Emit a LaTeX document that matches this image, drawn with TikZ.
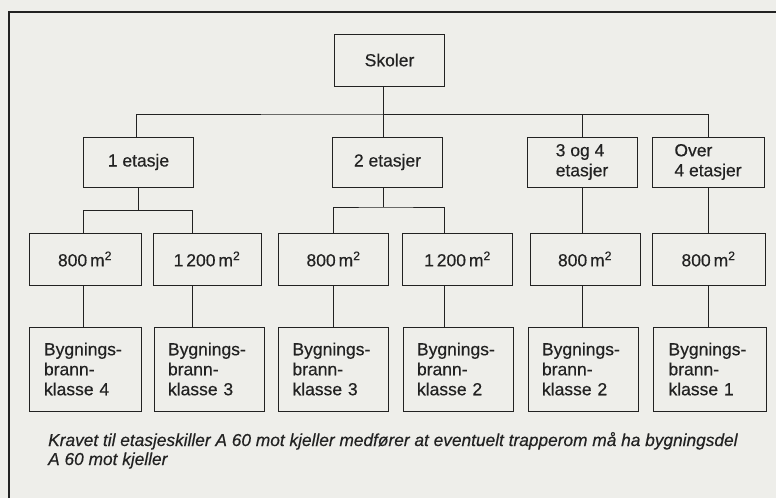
\documentclass[tikz,border=0pt]{standalone}
\usepackage{fontspec}
\setmainfont[FakeBold=0.4]{Liberation Sans}
\usetikzlibrary{positioning}
\definecolor{paper}{HTML}{EEEEEA}
\definecolor{ink}{HTML}{222222}

\begin{document}
\begin{tikzpicture}[
    x=1pt, y=-1pt,
    font=\fontsize{17.5}{20}\selectfont,
    box/.style={rectangle, draw=ink, line width=1pt, text=ink, minimum width=110pt, align=left, inner sep=0pt},
    topbox/.style={box, minimum height=52pt},
    floorbox/.style={box, minimum height=50pt},
    areabox/.style={box, minimum height=52pt},
    classbox/.style={box, minimum height=84pt, text width=82pt, inner xsep=14pt},
    link/.style={draw=ink, line width=0.9pt}
]

% ==================== PAGE ====================
\fill[paper] (0,0) rectangle (776,498);
\useasboundingbox (0,0) rectangle (776,498);
\draw[ink, line width=1.6pt] (9,498) -- (9,12) -- (776,12);

% ==================== NODES ====================
\node[topbox] (skoler) at (389.5, 60) {Skoler};

\node[floorbox] (e1) at (138.5, 162) {1 etasje};
\node[floorbox] (e2) at (387.5, 162) {2 etasjer};
\node[floorbox] (e34) at (582, 162) {3 og 4\\etasjer};
\node[floorbox, minimum width=112pt] (e4) at (708, 162) {Over\\4 etasjer};

\node[areabox, minimum width=112pt] (a1) at (85, 259) {800\,m\textsuperscript{2}};
\node[areabox, minimum width=108pt] (a2) at (207, 259) {1\,200\,m\textsuperscript{2}};
\node[areabox] (a3) at (333.5, 259) {800\,m\textsuperscript{2}};
\node[areabox] (a4) at (457.5, 259) {1\,200\,m\textsuperscript{2}};
\node[areabox] (a5) at (585, 259) {800\,m\textsuperscript{2}};
\node[areabox, minimum width=113pt] (a6) at (708.5, 259) {800\,m\textsuperscript{2}};

\node[classbox, minimum width=112pt] (k1) at (85, 369) {Bygnings-\\brann-\\klasse 4};
\node[classbox] (k2) at (209, 369) {Bygnings-\\brann-\\klasse 3};
\node[classbox] (k3) at (333.5, 369) {Bygnings-\\brann-\\klasse 3};
\node[classbox] (k4) at (458, 369) {Bygnings-\\brann-\\klasse 2};
\node[classbox] (k5) at (583, 369) {Bygnings-\\brann-\\klasse 2};
\node[classbox, minimum width=113pt] (k6) at (709.5, 369) {Bygnings-\\brann-\\klasse 1};

% ==================== NOTE ====================
\node[anchor=base west, align=left, inner sep=0pt, text=ink, font=\fontsize{17.3}{19}\selectfont\itshape] (note) at (48, 465)
    {Kravet til etasjeskiller A 60 mot kjeller medfører at eventuelt trapperom må ha bygningsdel\\
     A 60 mot kjeller};

% ==================== CONNECTORS ====================
% Skoler to floors
\coordinate (j0) at (383, 114);
\draw[link] (j0 |- skoler.south) -- (j0 |- e2.north);
\draw[link] ([xshift=-2.5pt]e1.north) |- (j0) -| (e4.north);
\draw[link] (j0) -| (e34.north);

% Floors to areas
\draw[link] (e1.south) -- ++(0,23) coordinate (j1);
\draw[link] ([xshift=-2pt]a1.north) |- (j1) -| ([xshift=-15pt]a2.north);
\coordinate (j2) at (383, 207);
\draw[link] (j2 |- e2.south) -- (j2);
\draw[link] (a3.north) |- (j2) -| ([xshift=-13.5pt]a4.north);
\draw[link] (e34.south) -- (e34.south |- a5.north);
\draw[link] (e4.south) -- (e4.south |- a6.north);

% Areas to fire classes
\draw[link] ([xshift=-2pt]a1.south) -- ([xshift=-2pt]a1.south |- k1.north);
\draw[link] ([xshift=-15pt]a2.south) -- ([xshift=-15pt]a2.south |- k2.north);
\draw[link] (a3.south) -- (a3.south |- k3.north);
\draw[link] ([xshift=-13.5pt]a4.south) -- ([xshift=-13.5pt]a4.south |- k4.north);
\draw[link] ([xshift=-3pt]a5.south) -- ([xshift=-3pt]a5.south |- k5.north);
\draw[link] (a6.south) -- (a6.south |- k6.north);

\end{tikzpicture}
\end{document}
